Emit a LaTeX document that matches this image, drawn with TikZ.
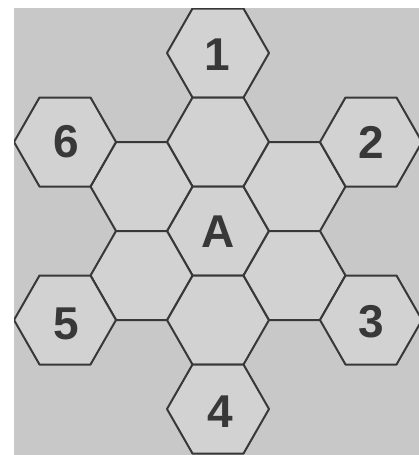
\documentclass[tikz,border=0pt]{standalone}
\usepackage{fontspec}
\setmainfont{Liberation Sans}
\definecolor{bg}{HTML}{C8C8C8}
\definecolor{hexfill}{HTML}{D2D2D2}
\definecolor{ink}{HTML}{383838}
\begin{document}
\begin{tikzpicture}[x=1pt,y=-1pt,
  hexcell/.style={draw=ink, line width=2pt, fill=hexfill, line join=round},
  lbl/.style={text=ink, font=\fontsize{46}{46}\selectfont\bfseries, inner sep=0pt}]
\useasboundingbox (0,0) rectangle (419,455);
\fill[white] (0,0) rectangle (419,455);
\fill[bg] (14,8) rectangle (419,455);
\begin{scope}
\clip (14,8) rectangle (419,455);
\foreach \cx/\cy in {218/53, 218/142, 218/231, 218/320, 218/409,
                     141.5/186.5, 141.5/275.5, 294.5/186.5, 294.5/275.5,
                     65/142, 65/320, 371/142, 371/320} {
  \draw[hexcell] (\cx-51,\cy) -- (\cx-25.5,\cy-44.5) -- (\cx+25.5,\cy-44.5)
    -- (\cx+51,\cy) -- (\cx+25.5,\cy+44.5) -- (\cx-25.5,\cy+44.5) -- cycle;
}
\end{scope}
\node[lbl] (n1) at (217,55) {1};
\node[lbl] (n2) at (371,142) {2};
\node[lbl] (n3) at (371,322) {3};
\node[lbl] (n4) at (220,412) {4};
\node[lbl] (n5) at (66,324) {5};
\node[lbl] (n6) at (66,142) {6};
\node[lbl] (nA) at (218,232) {A};
\end{tikzpicture}
\end{document}
